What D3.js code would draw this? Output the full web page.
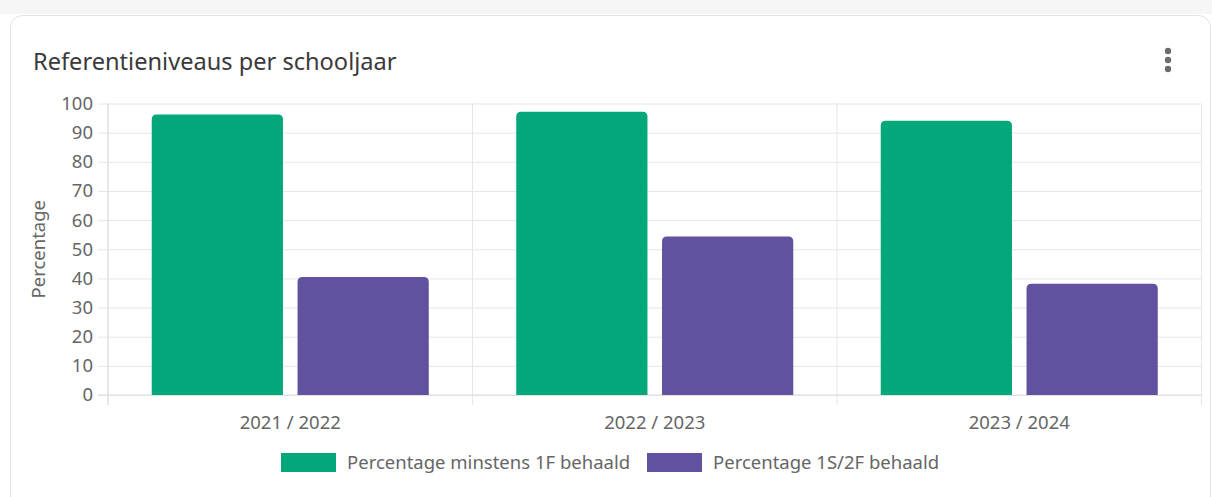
<!DOCTYPE html>
<html>
<head>
<meta charset="utf-8">
<script src="https://cdn.jsdelivr.net/npm/d3@7"></script>
<style>
  html, body { margin: 0; padding: 0; background: #fff; }
  svg { display: block; font-family: "Noto Sans", "Open Sans", sans-serif; }
</style>
</head>
<body>
<svg id="chart" width="1212" height="497"></svg>
<script>
// data
const schoolYears = ["2021 / 2022", "2022 / 2023", "2023 / 2024"]
const seriesNames = ["Percentage minstens 1F behaald", "Percentage 1S/2F behaald"]
const minstens1F = [96.2, 97.2, 94.1]
const behaald1S2F = [40.5, 54.4, 38.2]
const yTicks = [0, 10, 20, 30, 40, 50, 60, 70, 80, 90, 100]
const colors = ["#02a77a", "#61519e"]

const fontSize = 18.5

const svg = d3.select("#chart")

// page + card
svg.append("rect").attr("x", 0).attr("y", 0).attr("width", 1212).attr("height", 14).attr("fill", "#f6f6f6")
svg.append("rect")
  .attr("x", 10.5).attr("y", 15.5)
  .attr("width", 1200).attr("height", 500)
  .attr("rx", 12)
  .attr("fill", "#fff")
  .attr("stroke", "#e3e3e3")

svg.append("text")
  .attr("x", 33).attr("y", 70)
  .attr("font-size", 23.6)
  .attr("fill", "#3a3a3a")
  .text("Referentieniveaus per schooljaar")

// kebab menu
const kebab = svg.append("g").attr("fill", "#6d6d6d")
;[51, 60, 69].forEach(cy => kebab.append("circle").attr("cx", 1168).attr("cy", cy).attr("r", 3.2))

const plotLeft = 108, plotRight = 1201.5, plotTop = 103.5, plotBottom = 395

const x = d3.scaleBand().domain(schoolYears).range([plotLeft, plotRight])
const xInner = d3.scaleBand().domain(seriesNames).range([0, x.bandwidth() * 0.8])
const y = d3.scaleLinear().domain([0, 100]).range([plotBottom, plotTop])

const chart = svg.append("g")

// horizontal grid
chart.append("g")
  .attr("transform", `translate(${plotLeft},0)`)
  .call(d3.axisLeft(y).tickValues(yTicks).tickSize(-(plotRight - plotLeft)).tickFormat(""))
  .call(g => g.select(".domain").remove())
  .call(g => g.selectAll("line").attr("stroke", "#e6e6e6"))

// vertical grid at category borders
const borders = schoolYears.map(d => x(d)).concat([plotRight])
chart.append("g").selectAll("line")
  .data(borders)
  .join("line")
  .attr("x1", d => d).attr("x2", d => d)
  .attr("y1", plotTop).attr("y2", plotBottom + 10)
  .attr("stroke", "#e6e6e6")

// y axis labels + ticks
const yAxis = chart.append("g")
  .attr("transform", `translate(${plotLeft},0)`)
  .call(d3.axisLeft(y).tickValues(yTicks).tickSize(10).tickPadding(5))
yAxis.select(".domain").remove()
yAxis.selectAll("line").attr("stroke", "#e6e6e6")
yAxis.selectAll("text").attr("font-size", fontSize).attr("fill", "#666").attr("font-family", "Noto Sans")

// bottom axis line
chart.append("line")
  .attr("x1", plotLeft - 10).attr("x2", plotRight)
  .attr("y1", plotBottom).attr("y2", plotBottom)
  .attr("stroke", "#dcdcdc")
chart.append("line")
  .attr("x1", plotLeft).attr("x2", plotLeft)
  .attr("y1", plotTop).attr("y2", plotBottom + 10)
  .attr("stroke", "#dcdcdc")

// x labels
const xAxis = chart.append("g")
  .attr("transform", `translate(0,${plotBottom})`)
  .call(d3.axisBottom(x).tickSize(0).tickPadding(21))
xAxis.select(".domain").remove()
xAxis.selectAll("text").attr("font-size", fontSize).attr("fill", "#666").attr("font-family", "Noto Sans")

// bars with rounded tops
function topRounded(x0, y0, w, h, r) {
  r = Math.min(r, h, w / 2)
  return `M${x0},${y0 + h}V${y0 + r}Q${x0},${y0} ${x0 + r},${y0}H${x0 + w - r}Q${x0 + w},${y0} ${x0 + w},${y0 + r}V${y0 + h}Z`
}

const rows = schoolYears.map((yr, i) => ({
  year: yr,
  values: [
    { name: seriesNames[0], value: minstens1F[i], color: colors[0] },
    { name: seriesNames[1], value: behaald1S2F[i], color: colors[1] }
  ]
}))

const groups = chart.selectAll(".grp")
  .data(rows)
  .join("g")
  .attr("transform", d => `translate(${x(d.year) + x.bandwidth() * 0.1},0)`)

groups.selectAll("path")
  .data(d => d.values)
  .join("path")
  .attr("d", d => {
    const slot = xInner.bandwidth()
    const w = slot * 0.9
    const x0 = xInner(d.name) + (slot - w) / 2
    return topRounded(x0, y(d.value), w, plotBottom - y(d.value), 5)
  })
  .attr("fill", d => d.color)

// y axis title
svg.append("text")
  .attr("transform", `translate(45,${(plotTop + plotBottom) / 2}) rotate(-90)`)
  .attr("text-anchor", "middle")
  .attr("font-size", fontSize)
  .attr("fill", "#666")
  .text("Percentage")

// legend
const legendX = [281, 647]
const legend = svg.append("g")
seriesNames.forEach((name, i) => {
  legend.append("rect")
    .attr("x", legendX[i]).attr("y", 453)
    .attr("width", 55).attr("height", 19)
    .attr("fill", colors[i])
  legend.append("text")
    .attr("x", legendX[i] + 66).attr("y", 469)
    .attr("font-size", fontSize)
    .attr("fill", "#666")
    .text(name)
})
</script>
</body>
</html>
